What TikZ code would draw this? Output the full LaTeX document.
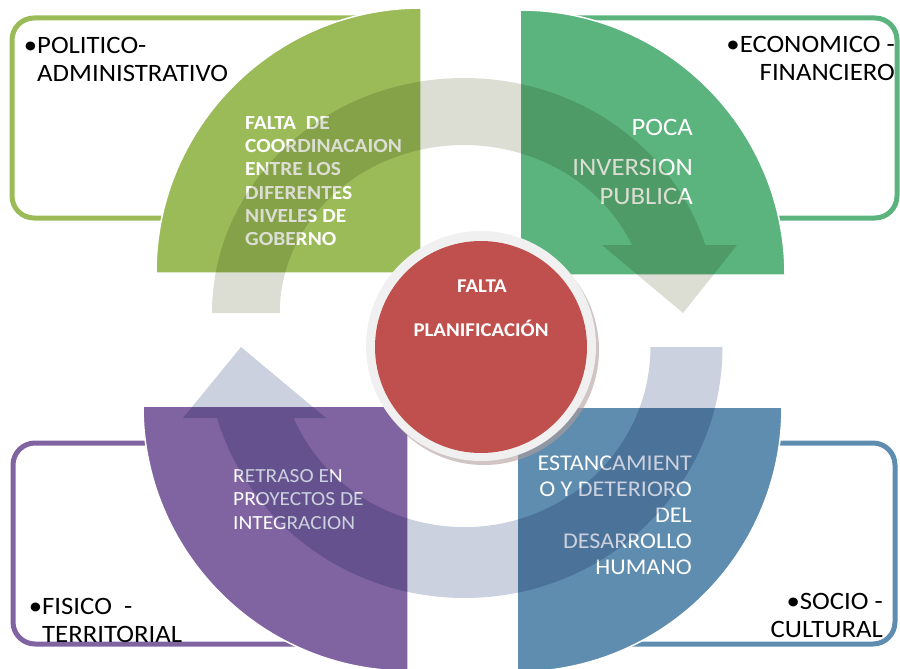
\documentclass[tikz,border=0pt]{standalone}
\usepackage{fontspec}
\setmainfont{Carlito}[FakeStretch=1.07]
\usepackage{xcolor}
\usepackage{tikz}

\definecolor{oliva}{HTML}{9BBB59}
\definecolor{verde}{HTML}{5BB37E}
\definecolor{lila}{HTML}{8064A2}
\definecolor{azul}{HTML}{5F8DAF}
\definecolor{rojo}{HTML}{C0504D}
\definecolor{anillo}{HTML}{DCDED3}
\definecolor{anillob}{HTML}{CBD1DF}

\begin{document}
\begin{tikzpicture}[x=1pt,y=-1pt,
    marco/.style={line width=5pt,rounded corners=22pt},
    sector/.style={draw=white,line width=1.5pt},
    etiqueta/.style={inner sep=0pt,text=black,font=\fontsize{25}{28}\selectfont},
    blanco/.style={inner sep=0pt,text=white}]
    \useasboundingbox (0,0) rectangle (900,669);

    % marcos de las cuatro dimensiones
    \draw[marco,oliva] (12,18) rectangle (400,218);
    \draw[marco,verde] (540,18) rectangle (897,218);
    \draw[marco,lila] (13,443) rectangle (395,644);
    \draw[marco,azul] (535,443) rectangle (895,644);

    % cuartos de circulo
    \filldraw[sector,fill=oliva] (421,273) -- (156,273) arc[start angle=180,end angle=270,radius=265] -- cycle;
    \filldraw[sector,fill=verde] (520,275) -- (520,10) arc[start angle=270,end angle=360,radius=265] -- cycle;
    \filldraw[sector,fill=azul] (517,407) -- (782,407) arc[start angle=0,end angle=90,radius=265] -- cycle;
    \filldraw[sector,fill=lila] (408,406) -- (408,671) arc[start angle=90,end angle=180,radius=265] -- cycle;

    \node[blanco,anchor=north west,align=left,font=\bfseries\fontsize{20}{23.3}\selectfont] (coord) at (245,116)
        {FALTA~~DE\\COORDINACAION\\ENTRE LOS\\DIFERENTES\\NIVELES DE\\GOBERNO};
    \node[blanco,anchor=north east,align=right,font=\fontsize{25}{29}\selectfont] (inversion) at (693,119)
        {POCA\\[11pt]INVERSION\\PUBLICA};
    \node[blanco,anchor=north west,align=left,font=\fontsize{20}{23.5}\selectfont] (retraso) at (233,469)
        {RETRASO EN\\PROYECTOS DE\\INTEGRACION};
    \node[blanco,anchor=north east,align=right,font=\fontsize{22.5}{26}\selectfont] (estanc) at (692,456)
        {ESTANCAMIENT\\O Y DETERIORO\\DEL\\DESARROLLO\\HUMANO};

    % flechas circulares
    \begin{scope}[blend mode=multiply]
        \fill[anillo] (212,313) arc[start angle=180,end angle=343.2,x radius=252,y radius=235]
            -- (737,245) -- (683,313) -- (602,245) -- (632,245)
            arc[start angle=336.1,end angle=180,x radius=184,y radius=168] -- cycle;
        \fill[anillob] (650.5,347) -- (722.5,347) arc[start angle=0,end angle=163.6,x radius=258,y radius=251]
            -- (183,418) -- (241,347) -- (326,418) -- (293.5,418)
            arc[start angle=156.8,end angle=0,x radius=186,y radius=180] -- cycle;
    \end{scope}

    % circulo central
    \fill[rojo!45!black!45, opacity=.6] (484,350) circle[radius=115];
    \fill[gray!12] (481,346) circle[radius=115];
    \node[circle,fill=rojo,minimum size=212pt,inner sep=0pt] (centro) at (481,347) {};
    \node[blanco,anchor=base,font=\bfseries\fontsize{19.5}{24}\selectfont] (falta) at (482,292) {FALTA};
    \node[blanco,anchor=base,font=\bfseries\fontsize{19.5}{24}\selectfont] (planif) at (481,336) {PLANIFICACIÓN};

    % textos de los marcos
    \node[etiqueta,anchor=north west,align=left] (politico) at (37,37) {\llap{\textbullet}POLITICO-\\ADMINISTRATIVO};
    \node[etiqueta,anchor=north east,align=right] (economico) at (895,36) {\textbullet ECONOMICO -\\FINANCIERO};
    \node[etiqueta,anchor=north west,align=left] (fisico) at (42,598) {\llap{\textbullet}FISICO~~-\\TERRITORIAL};
    \node[etiqueta,anchor=north east,align=right] (socio) at (883,593) {\textbullet SOCIO -\\CULTURAL};
\end{tikzpicture}
\end{document}
